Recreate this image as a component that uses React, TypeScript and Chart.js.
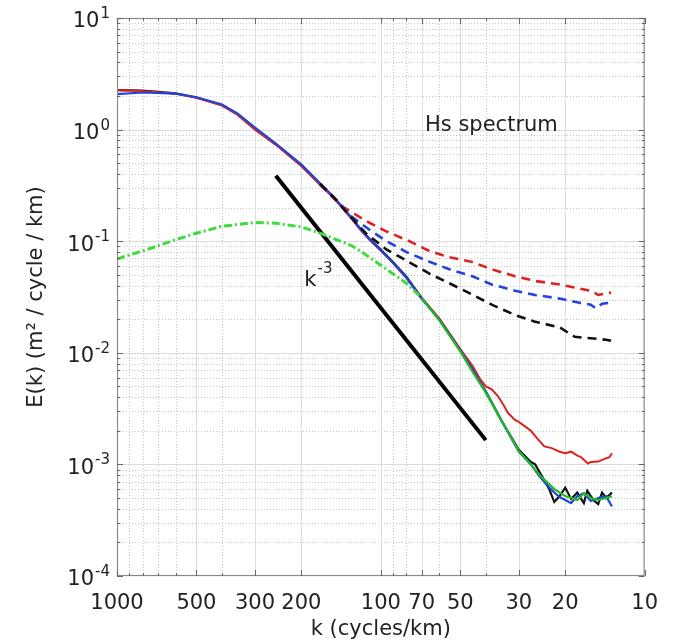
import React, { useEffect, useRef } from "react";
import { Chart, registerables } from "chart.js";

Chart.register(...registerables);

const FONT = '"DejaVu Sans", "Liberation Sans", sans-serif';

// Axis ticks
const xTickValues = [1000, 500, 300, 200, 100, 70, 50, 30, 20, 10];
const yTickExponents = [1, 0, -1, -2, -3, -4];

// Shared body of the solid spectra (k in cycles/km)
const solidK = [1000, 800, 600, 500, 400, 350, 300, 250, 200, 170, 150, 130, 120, 110, 100, 90, 80, 70, 60, 50];
const blackSolidE = [2.26, 2.24, 2.11, 1.94, 1.66, 1.38, 1.03, 0.743, 0.48, 0.326, 0.244, 0.165, 0.131, 0.104, 0.084, 0.065, 0.048, 0.031, 0.02, 0.0107];
const blueSolidE = [2.08, 2.15, 2.1, 1.95, 1.68, 1.4, 1.04, 0.75, 0.485, 0.33, 0.245, 0.165, 0.13, 0.103, 0.083, 0.064, 0.047, 0.0305, 0.0198, 0.0105];
const redSolidE = [2.25, 2.22, 2.1, 1.93, 1.64, 1.36, 1.0, 0.73, 0.47, 0.32, 0.24, 0.162, 0.128, 0.102, 0.082, 0.064, 0.047, 0.031, 0.0202, 0.0108];

// Tails of the solid spectra
const blackTailK = [45, 40, 35, 30, 27, 26, 25, 24, 23, 22, 21, 20, 19, 18, 17.5, 17, 16.5, 16, 15.5, 15, 14.5, 14, 13.3];
const blackTailE = [0.0071, 0.0045, 0.0025, 0.00135, 0.00105, 0.001, 0.00085, 0.00072, 0.0006, 0.00046, 0.00052, 0.00062, 0.00049, 0.00056, 0.0005, 0.00045, 0.00058, 0.00052, 0.00047, 0.00044, 0.00056, 0.0005, 0.00056];
const blueTailK = [45, 40, 35, 30, 27, 25, 23, 22, 21, 20, 19, 18, 17, 16, 15, 14, 13.3];
const blueTailE = [0.0071, 0.0045, 0.0025, 0.0013, 0.001, 0.00078, 0.00062, 0.00056, 0.00051, 0.00048, 0.00045, 0.00052, 0.00055, 0.00047, 0.0005, 0.00052, 0.00042];
const redTailK = [45, 42, 40, 38, 36, 34, 33, 31, 30, 28.5, 27, 25.5, 24, 22.5, 21, 20, 19, 18, 17.5, 17, 16.4, 16, 15, 14.2, 13.6, 13.3];
const redTailE = [0.0077, 0.0058, 0.005, 0.0047, 0.0041, 0.0033, 0.0029, 0.0025, 0.0024, 0.0022, 0.002, 0.0017, 0.00145, 0.0014, 0.0013, 0.00126, 0.0013, 0.0012, 0.00117, 0.0011, 0.00102, 0.00105, 0.00106, 0.00112, 0.00116, 0.00126];

// Green spectrum (dash-dot at large scales, solid at small scales)
const greenK = [1000, 750, 600, 500, 400, 300, 250, 200, 170, 150, 130, 120, 100, 90, 80, 70, 60, 50, 45, 40, 35, 30, 27, 25, 22, 20, 18, 17, 16, 15, 14, 13.3];
const greenE = [0.0693, 0.086, 0.103, 0.118, 0.136, 0.147, 0.145, 0.134, 0.118, 0.105, 0.092, 0.082, 0.061, 0.051, 0.042, 0.031, 0.0195, 0.0103, 0.0068, 0.0044, 0.0025, 0.00132, 0.001, 0.0008, 0.0006, 0.00052, 0.00048, 0.00055, 0.0005, 0.00048, 0.0005, 0.00052];
const greenDashUntilK = 70;

// Dashed spectra
const redDashK = [170, 150, 140, 114, 95, 78, 65, 55, 45, 38, 31, 26, 21, 18, 16, 15, 14, 13.4];
const redDashE = [0.32, 0.24, 0.205, 0.152, 0.122, 0.1, 0.081, 0.072, 0.065, 0.056, 0.0485, 0.044, 0.041, 0.038, 0.036, 0.033, 0.034, 0.0346];
const blueDashK = [170, 150, 130, 108, 95, 80, 65, 55, 45, 38, 31, 26, 21, 17.5, 16, 15.3, 14.5, 13.4];
const blueDashE = [0.33, 0.245, 0.168, 0.122, 0.1, 0.08, 0.065, 0.056, 0.0485, 0.041, 0.036, 0.033, 0.0306, 0.0279, 0.027, 0.025, 0.0275, 0.0281];
const blackDashK = [170, 150, 130, 114, 95, 85, 65, 55, 45, 38, 31, 26, 21, 18.4, 16, 14, 13.4];
const blackDashE = [0.326, 0.244, 0.165, 0.118, 0.084, 0.0726, 0.0508, 0.042, 0.0333, 0.027, 0.0218, 0.019, 0.0169, 0.0139, 0.0135, 0.0131, 0.0128];

// k^-3 reference line
const slopeK = [250, 40];
const slopeE = [0.385, 0.00165];

// Annotations (data coordinates)
const hsLabel = { text: "Hs spectrum", k: 68, e: 0.97 };
const slopeLabel = { base: "k", exp: "-3", k: 195, e: 0.0397 };

const xTitle = "k (cycles/km)";
const yTitle = "E(k) (m² / cycle / km)";

const zip = (ks: number[], es: number[]) => ks.map((k, i) => ({ x: k, y: es[i] }));

const RED = "#dd2222";
const BLUE = "#2244dd";
const BLACK = "#111111";
const GREEN_SOLID = "#22bb22";
const GREEN_DASH = "#3ddc3d";

const matlabPlugin = {
  id: "matlabDecor",
  beforeDatasetsDraw(chart: any) {
    const { ctx, chartArea: a, scales } = chart;
    const x = scales.x;
    const y = scales.y;
    ctx.save();
    ctx.beginPath();
    ctx.rect(a.left, a.top, a.right - a.left, a.bottom - a.top);
    ctx.clip();
    // minor dotted grid
    ctx.lineWidth = 1;
    ctx.strokeStyle = "#c6c6c6";
    ctx.setLineDash([1, 2]);
    for (let e = -4; e < 1; e++) {
      for (let m = 2; m <= 9; m++) {
        const py = Math.round(y.getPixelForValue(m * Math.pow(10, e))) + 0.5;
        ctx.beginPath();
        ctx.moveTo(a.left, py);
        ctx.lineTo(a.right, py);
        ctx.stroke();
      }
    }
    for (let e = 1; e < 3; e++) {
      for (let m = 2; m <= 9; m++) {
        const px = Math.round(x.getPixelForValue(m * Math.pow(10, e))) + 0.5;
        ctx.beginPath();
        ctx.moveTo(px, a.top);
        ctx.lineTo(px, a.bottom);
        ctx.stroke();
      }
    }
    // major solid grid
    ctx.setLineDash([]);
    ctx.strokeStyle = "#dcdcdc";
    for (const e of yTickExponents) {
      const py = Math.round(y.getPixelForValue(Math.pow(10, e))) + 0.5;
      ctx.beginPath();
      ctx.moveTo(a.left, py);
      ctx.lineTo(a.right, py);
      ctx.stroke();
    }
    for (const v of xTickValues) {
      const px = Math.round(x.getPixelForValue(v)) + 0.5;
      ctx.beginPath();
      ctx.moveTo(px, a.top);
      ctx.lineTo(px, a.bottom);
      ctx.stroke();
    }
    ctx.restore();
  },
  afterDatasetsDraw(chart: any) {
    const { ctx, chartArea: a, scales } = chart;
    const x = scales.x;
    const y = scales.y;
    ctx.save();
    // box
    ctx.strokeStyle = "#8a8a8a";
    ctx.lineWidth = 1.2;
    ctx.setLineDash([]);
    ctx.strokeRect(a.left + 0.5, a.top + 0.5, a.right - a.left - 1, a.bottom - a.top - 1);
    // tick marks
    ctx.strokeStyle = "#666666";
    ctx.lineWidth = 1;
    const hTick = (py: number, len: number) => {
      ctx.beginPath();
      ctx.moveTo(a.left, py);
      ctx.lineTo(a.left + len, py);
      ctx.moveTo(a.right, py);
      ctx.lineTo(a.right - len, py);
      ctx.stroke();
    };
    const vTick = (px: number, len: number) => {
      ctx.beginPath();
      ctx.moveTo(px, a.bottom);
      ctx.lineTo(px, a.bottom - len);
      ctx.moveTo(px, a.top);
      ctx.lineTo(px, a.top + len);
      ctx.stroke();
    };
    for (let e = -4; e < 1; e++) {
      for (let m = 2; m <= 9; m++) hTick(Math.round(y.getPixelForValue(m * Math.pow(10, e))) + 0.5, 3);
    }
    for (const e of yTickExponents) hTick(Math.round(y.getPixelForValue(Math.pow(10, e))) + 0.5, 6);
    for (let e = 1; e < 3; e++) {
      for (let m = 2; m <= 9; m++) vTick(Math.round(x.getPixelForValue(m * Math.pow(10, e))) + 0.5, 3);
    }
    for (const v of xTickValues) vTick(Math.round(x.getPixelForValue(v)) + 0.5, 6);

    // y tick labels 10^n
    ctx.fillStyle = "#222222";
    for (const e of yTickExponents) {
      const py = y.getPixelForValue(Math.pow(10, e));
      const right = a.left - 7;
      ctx.font = `15px ${FONT}`;
      const expText = String(e);
      const expW = ctx.measureText(expText).width;
      ctx.textAlign = "right";
      ctx.textBaseline = "alphabetic";
      ctx.fillText(expText, right, py);
      ctx.font = `21px ${FONT}`;
      ctx.textBaseline = "middle";
      ctx.fillText("10", right - expW - 1, py + 4);
    }

    // annotations
    ctx.textAlign = "left";
    ctx.textBaseline = "alphabetic";
    ctx.font = `21px ${FONT}`;
    ctx.fillText(hsLabel.text, x.getPixelForValue(hsLabel.k), y.getPixelForValue(hsLabel.e));
    const sx = x.getPixelForValue(slopeLabel.k);
    const sy = y.getPixelForValue(slopeLabel.e);
    ctx.fillText(slopeLabel.base, sx, sy);
    const bw = ctx.measureText(slopeLabel.base).width;
    ctx.font = `15px ${FONT}`;
    ctx.fillText(slopeLabel.exp, sx + bw + 1, sy - 13);
    ctx.restore();
  },
};

export default function App() {
  const canvasRef = useRef<HTMLCanvasElement | null>(null);

  useEffect(() => {
    const canvas = canvasRef.current;
    if (!canvas) return;
    const solidBase = { pointRadius: 0, borderWidth: 2.2, tension: 0, fill: false };
    const dashBase = { pointRadius: 0, borderWidth: 2.6, tension: 0, fill: false, borderDash: [9, 6] };
    const chart = new Chart(canvas, {
      type: "line",
      data: {
        datasets: [
          {
            ...solidBase,
            label: "green",
            data: zip(greenK, greenE),
            borderColor: GREEN_SOLID,
            borderWidth: 2.2,
            segment: {
              borderDash: (c: any) => (c.p0.parsed.x > greenDashUntilK ? [8, 3, 2, 3] : undefined),
              borderColor: (c: any) => (c.p0.parsed.x > greenDashUntilK ? GREEN_DASH : GREEN_SOLID),
              borderWidth: (c: any) => (c.p0.parsed.x > greenDashUntilK ? 3 : 2.2),
            },
          } as any,
          { ...dashBase, label: "black dashed", data: zip(blackDashK, blackDashE), borderColor: BLACK },
          { ...dashBase, label: "blue dashed", data: zip(blueDashK, blueDashE), borderColor: BLUE },
          { ...dashBase, label: "red dashed", data: zip(redDashK, redDashE), borderColor: RED },
          { ...solidBase, label: "blue", data: zip(solidK.concat(blueTailK), blueSolidE.concat(blueTailE)), borderColor: BLUE },
          { ...solidBase, label: "red", data: zip(solidK.concat(redTailK), redSolidE.concat(redTailE)), borderColor: RED, borderWidth: 2 },
          { ...solidBase, label: "black", data: zip(solidK.concat(blackTailK), blackSolidE.concat(blackTailE)), borderColor: BLACK },
          { ...solidBase, label: "k^-3", data: zip(slopeK, slopeE), borderColor: "#000000", borderWidth: 4 },
        ],
      },
      options: {
        animation: false,
        responsive: false,
        devicePixelRatio: 1,
        layout: { padding: { left: 20, right: 26, top: 18, bottom: 0 } },
        plugins: {
          legend: { display: false },
          tooltip: { enabled: false },
          title: { display: false },
        },
        scales: {
          x: {
            type: "logarithmic",
            reverse: true,
            min: 10,
            max: 1000,
            grid: { display: false, drawTicks: false },
            border: { display: false },
            afterBuildTicks: (s: any) => {
              s.ticks = xTickValues.map((v) => ({ value: v }));
            },
            afterFit: (s: any) => {
              s.height = 66;
            },
            ticks: {
              autoSkip: false,
              maxRotation: 0,
              minRotation: 0,
              padding: 15,
              color: "#222222",
              font: { family: FONT, size: 21 },
              callback: (v: any) => String(v),
            },
            title: {
              display: true,
              text: xTitle,
              color: "#222222",
              font: { family: FONT, size: 21 },
              padding: { top: 0, bottom: 0 },
            },
          },
          y: {
            type: "logarithmic",
            min: 1e-4,
            max: 10,
            grid: { display: false, drawTicks: false },
            border: { display: false },
            afterBuildTicks: (s: any) => {
              s.ticks = yTickExponents.map((e) => ({ value: Math.pow(10, e) }));
            },
            afterFit: (s: any) => {
              s.width = 97;
            },
            ticks: { display: false },
            title: {
              display: true,
              text: yTitle,
              color: "#222222",
              font: { family: FONT, size: 21 },
              padding: { top: 4, bottom: 0 },
            },
          },
        },
      } as any,
      plugins: [matlabPlugin],
    });
    return () => chart.destroy();
  }, []);

  return (
    <div style={{ position: "absolute", left: 0, top: 0, width: 673, height: 642, background: "#ffffff" }}>
      <canvas ref={canvasRef} width={673} height={642} style={{ display: "block" }} />
    </div>
  );
}
